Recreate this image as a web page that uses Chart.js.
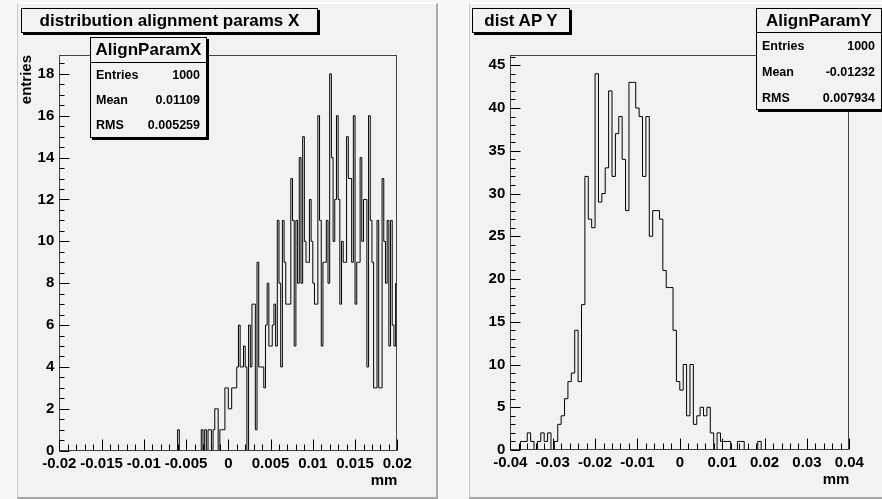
<!DOCTYPE html>
<html><head><meta charset="utf-8">
<script src="https://cdn.jsdelivr.net/npm/chart.js@4/dist/chart.umd.min.js"></script>
<style>
html,body{margin:0;padding:0;}
body{width:882px;height:499px;overflow:hidden;position:relative;background:#f8f8f8;font-family:'Liberation Sans',Arial,sans-serif;color:#000;}
.pad{position:absolute;background:#f2f2f2;border-top:1px solid #ffffff;border-left:1px solid #c8c8c8;border-right:2px solid #a8a8a8;border-bottom:2px solid #a8a8a8;box-sizing:border-box;}
.cv{position:absolute;top:0;}
.tbox{position:absolute;border:1px solid #000;box-shadow:2px 2px 0 #000;background:#f2f2f2;font-weight:bold;font-size:17px;text-align:center;box-sizing:border-box;white-space:nowrap;}
.stats{position:absolute;border:1px solid #000;box-shadow:2px 2px 0 #000;background:#f2f2f2;box-sizing:border-box;font-weight:bold;}
.stats .head{font-size:17px;text-align:center;border-bottom:1px solid #000;box-sizing:border-box;}
.stats .row{position:relative;font-size:12.5px;}
.stats .row span{position:absolute;}
</style>
</head><body>
<div class="pad" style="left:17px;top:3px;width:421px;height:496px;"></div>
<div class="pad" style="left:469px;top:3px;width:416px;height:496px;"></div>
<canvas id="cL" class="cv" style="left:0px" width="441" height="499"></canvas>
<canvas id="cR" class="cv" style="left:441px" width="441" height="499"></canvas>

<div class="tbox" style="left:21px;top:8px;width:297px;height:25px;line-height:23px;">distribution alignment params X</div>
<div class="tbox" style="left:472px;top:8px;width:98px;height:25px;line-height:23px;">dist AP Y</div>

<div class="stats" style="left:90px;top:37px;width:117px;height:101px;">
  <div class="head" style="height:25px;line-height:24px;">AlignParamX</div>
  <div class="row" style="height:25px;line-height:24px;"><span style="left:5px">Entries</span><span style="right:6px">1000</span></div>
  <div class="row" style="height:25px;line-height:25px;"><span style="left:5px">Mean</span><span style="right:6px">0.01109</span></div>
  <div class="row" style="height:25px;line-height:25px;"><span style="left:5px">RMS</span><span style="right:6px">0.005259</span></div>
</div>
<div class="stats" style="left:756px;top:8px;width:126px;height:102px;">
  <div class="head" style="height:24px;line-height:23px;">AlignParamY</div>
  <div class="row" style="height:26px;line-height:26px;"><span style="left:5px">Entries</span><span style="right:6px">1000</span></div>
  <div class="row" style="height:26px;line-height:26px;"><span style="left:5px">Mean</span><span style="right:6px">-0.01232</span></div>
  <div class="row" style="height:26px;line-height:26px;"><span style="left:5px">RMS</span><span style="right:6px">0.007934</span></div>
</div>

<script>
// ---------------- data ----------------
const leftRange = [-0.02, 0.02];
const leftCounts = [
  0,0,0,0,0,0,0,0,0,0,
  0,0,0,0,0,0,0,0,0,0,
  0,0,0,0,0,0,0,0,0,0,
  0,0,0,0,0,0,0,0,0,0,
  0,0,0,0,0,0,0,0,0,0,
  0,0,0,0,0,0,0,0,0,0,
  0,0,0,0,0,0,0,0,0,0,
  1,0,0,0,0,0,0,0,0,0,
  0,0,0,0,1,0,1,0,1,1,
  0,1,2,2,0,1,1,1,3,3,
  2,2,3,3,3,4,6,4,4,5,
  4,0,6,4,7,7,1,9,4,4,
  4,3,6,8,5,5,6,7,5,11,
  8,4,11,9,7,7,7,13,11,5,
  11,8,14,8,15,10,9,9,12,10,
  8,7,7,16,11,5,9,9,11,8,
  18,14,10,12,16,12,7,10,9,9,
  15,13,13,9,16,7,9,9,14,10,
  12,12,4,16,11,9,3,3,11,3,
  3,13,10,8,11,5,11,6,5,8
];
const leftXTicks = [-0.02, -0.015, -0.01, -0.005, 0, 0.005, 0.01, 0.015, 0.02];
const leftXTickLabels = ['-0.02', '-0.015', '-0.01', '-0.005', '0', '0.005', '0.01', '0.015', '0.02'];
const leftYTicks = [0, 2, 4, 6, 8, 10, 12, 14, 16, 18];
const leftYTickLabels = ['0', '2', '4', '6', '8', '10', '12', '14', '16', '18'];

const rightRange = [-0.04, 0.04];
const rightCounts = [
  0,0,0,1,1,2,1,0,1,2,
  1,2,0,1,3,4,6,8,9,14,
  8,17,32,27,26,44,29,30,33,42,
  32,37,39,34,28,43,43,40,39,32,
  39,25,28,28,27,21,19,19,14,8,
  7,10,4,10,3,4,5,4,5,2,
  0,2,1,1,1,0,0,1,1,0,
  0,0,0,1,0,0,0,0,0,0,
  0,0,0,0,0,0,0,0,0,0,
  0,0,0,0,0,0,0,0,0,0
];
const rightXTicks = [-0.04, -0.03, -0.02, -0.01, 0, 0.01, 0.02, 0.03, 0.04];
const rightXTickLabels = ['-0.04', '-0.03', '-0.02', '-0.01', '0', '0.01', '0.02', '0.03', '0.04'];
const rightYTicks = [0, 5, 10, 15, 20, 25, 30, 35, 40, 45];
const rightYTickLabels = ['0', '5', '10', '15', '20', '25', '30', '35', '40', '45'];

// ---------------- helpers ----------------
const FONT = "'Liberation Sans', Arial, sans-serif";

function stepPoints(range, counts) {
  const w = (range[1] - range[0]) / counts.length;
  const pts = counts.map((c, i) => ({x: range[0] + i * w, y: c}));
  pts.push({x: range[1], y: counts[counts.length - 1]});
  return pts;
}

const rootAxes = {
  id: 'rootAxes',
  afterDatasetsDraw(chart, args, o) {
    const {ctx, chartArea: a, scales: {x, y}} = chart;
    ctx.save();
    ctx.lineWidth = 1;
    const L = Math.round(a.left) + 0.5, R = Math.round(a.right) - 0.5;
    const T = Math.round(a.top) + 0.5, B = Math.round(a.bottom) - 0.5;
    ctx.strokeStyle = '#444';
    ctx.strokeRect(L, T, R - L, B - T);
    ctx.strokeStyle = '#000';
    ctx.beginPath();
    const xs = o.xMajor;
    const xMinorStep = (xs[1] - xs[0]) / o.xSub;
    const nx = Math.round((xs[xs.length - 1] - xs[0]) / xMinorStep);
    for (let i = 0; i <= nx; i++) {
      const v = xs[0] + i * xMinorStep;
      const px = Math.round(x.getPixelForValue(v)) + 0.5;
      const len = (i % o.xSub === 0) ? 11 : 6;
      ctx.moveTo(px, B); ctx.lineTo(px, B - len);
    }
    const ys = o.yMajor;
    const yMinorStep = (ys[1] - ys[0]) / o.ySub;
    const ymax = y.max;
    for (let i = 0; ys[0] + i * yMinorStep <= ymax + 1e-9; i++) {
      const v = ys[0] + i * yMinorStep;
      const py = Math.round(y.getPixelForValue(v)) + 0.5;
      const len = (i % o.ySub === 0) ? 10 : 5;
      ctx.moveTo(L, py); ctx.lineTo(L + len, py);
    }
    ctx.stroke();
    ctx.restore();
  }
};

function makeChart(id, range, counts, xT, xTL, yT, yTL, xSub, ySub, pad, yTitle) {
  const ymax = Math.max(...counts) * 1.05;
  return new Chart(document.getElementById(id), {
    type: 'line',
    data: {
      datasets: [{
        data: stepPoints(range, counts),
        stepped: 'before',
        borderColor: '#000',
        borderWidth: 1,
        pointRadius: 0,
        fill: false,
        tension: 0
      }]
    },
    options: {
      responsive: false,
      animation: false,
      events: [],
      layout: {padding: pad},
      plugins: {
        legend: {display: false},
        tooltip: {enabled: false},
        rootAxes: {xMajor: xT, xSub: xSub, yMajor: yT, ySub: ySub}
      },
      scales: {
        x: {
          type: 'linear',
          min: range[0], max: range[1],
          grid: {display: false, drawTicks: false},
          border: {display: false},
          afterBuildTicks: s => { s.ticks = xT.map(v => ({value: v})); },
          afterFit: s => { s.height = 48; },
          ticks: {
            autoSkip: false, maxRotation: 0, minRotation: 0, padding: 4,
            color: '#000', font: {family: FONT, size: 15, weight: 'bold'},
            callback: (v, i) => xTL[i]
          },
          title: {
            display: true, text: 'mm', align: 'end', color: '#000',
            font: {family: FONT, size: 15, weight: 'bold'},
            padding: {top: 0, bottom: 9}
          }
        },
        y: {
          type: 'linear',
          min: 0, max: ymax,
          grid: {display: false, drawTicks: false},
          border: {display: false},
          afterBuildTicks: s => { s.ticks = yT.map(v => ({value: v})); },
          afterFit: s => { s.width = 40; },
          ticks: {
            autoSkip: false, padding: 5,
            color: '#000', font: {family: FONT, size: 15, weight: 'bold'},
            callback: (v, i) => yTL[i]
          },
          title: {
            display: !!yTitle, text: yTitle || '', align: 'end', color: '#000',
            font: {family: FONT, size: 15, weight: 'bold', lineHeight: 1},
            padding: {top: 0, bottom: 0}
          }
        }
      }
    },
    plugins: [rootAxes]
  });
}

makeChart('cL', leftRange, leftCounts, leftXTicks, leftXTickLabels, leftYTicks, leftYTickLabels, 5, 4,
  {left: 19.3, right: 43.7, top: 55, bottom: 0.3}, 'entries');
makeChart('cR', rightRange, rightCounts, rightXTicks, rightXTickLabels, rightYTicks, rightYTickLabels, 5, 5,
  {left: 29.3, right: 32.7, top: 55, bottom: 1}, '');
</script>
</body></html>
